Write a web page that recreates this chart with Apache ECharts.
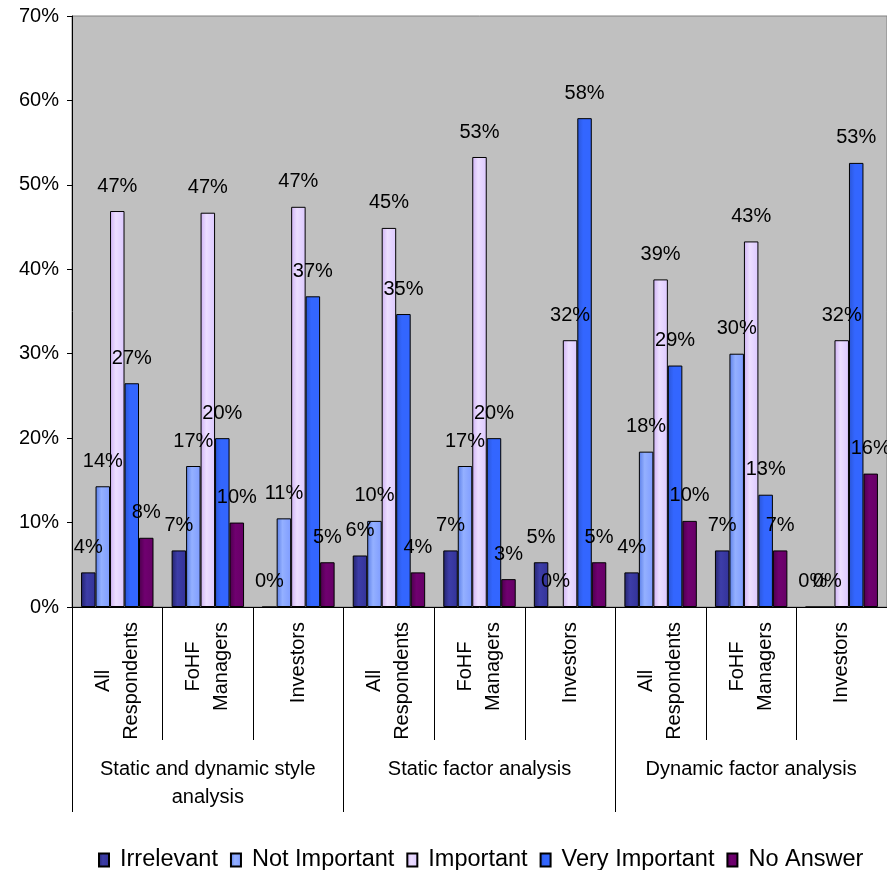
<!DOCTYPE html>
<html>
<head>
<meta charset="utf-8">
<script src="https://cdn.jsdelivr.net/npm/echarts@6/dist/echarts.min.js"></script>
<style>
html,body{margin:0;padding:0;background:#fff;}
#chart{width:887px;height:870px;}
</style>
</head>
<body>
<div id="chart"></div>
<script>
// ---- data (percent) ----
const categories = ['All\nRespondents', 'FoHF\nManagers', 'Investors',
                    'All\nRespondents', 'FoHF\nManagers', 'Investors',
                    'All\nRespondents', 'FoHF\nManagers', 'Investors'];
const groups = ['Static and dynamic style\nanalysis', 'Static factor analysis', 'Dynamic factor analysis'];
const seriesNames = ['Irrelevant', 'Not Important', 'Important', 'Very Important', 'No Answer'];
const irrelevant    = [4.1, 6.7, 0,    6.1, 6.7, 5.3,  4.1, 6.7, 0];
const notImportant  = [14.3, 16.7, 10.5, 10.2, 16.7, 0, 18.4, 30.0, 0];
const important     = [46.9, 46.7, 47.4, 44.9, 53.3, 31.6, 38.8, 43.3, 31.6];
const veryImportant = [26.5, 20.0, 36.8, 34.7, 20.0, 57.9, 28.6, 13.3, 52.6];
const noAnswer      = [8.2, 10.0, 5.3, 4.1, 3.3, 5.3, 10.2, 6.7, 15.8];
const yTicks = [0, 10, 20, 30, 40, 50, 60, 70];

const FONT = 'Liberation Sans, Arial, sans-serif';
function grad(dark, light, base) {
  return new echarts.graphic.LinearGradient(0, 0, 1, 0, [
    { offset: 0, color: dark }, { offset: 0.4, color: light }, { offset: 1, color: base }
  ]);
}
const colors = [
  grad('#24246e', '#3d3da8', '#333399'),
  grad('#5a7ee8', '#94b0ff', '#7f9cff'),
  grad('#cfb2f5', '#ecdeff', '#dcc8ff'),
  grad('#2a55d6', '#3366ff', '#3366ff'),
  grad('#4d004d', '#700070', '#660066')
];
const values = [irrelevant, notImportant, important, veryImportant, noAnswer];

const chart = echarts.init(document.getElementById('chart'), null, { renderer: 'canvas' });
chart.setOption({
  animation: false,
  textStyle: { fontFamily: FONT, color: '#000' },
  grid: {
    left: 72, right: 0, top: 16, bottom: 263,
    show: true, backgroundColor: '#C0C0C0', borderColor: '#808080', borderWidth: 1
  },
  legend: {
    left: 93, top: 843,
    icon: 'rect', itemWidth: 10, itemHeight: 13, itemGap: 12,
    textStyle: { fontFamily: FONT, fontSize: 23.5, color: '#000', padding: [0, 0, 0, 6] },
    data: seriesNames
  },
  xAxis: [
    {
      type: 'category', data: categories, position: 'bottom',
      axisLine: { show: true, lineStyle: { color: '#000', width: 1 } },
      axisTick: { show: true, interval: 0, length: 133, lineStyle: { color: '#000', width: 1 } },
      axisLabel: {
        interval: 0, rotate: 90, margin: 15, color: '#000', fontFamily: FONT, fontSize: 20,
        formatter: function (v) { return v.split('\n').map(s => '{c|' + s + '}').join('\n'); },
        rich: { c: { align: 'center', fontFamily: FONT, fontSize: 20, lineHeight: 28, color: '#000' } }
      }
    },
    {
      type: 'category', data: groups, position: 'bottom',
      axisLine: { show: false },
      axisTick: { show: true, interval: 0, length: 205, lineStyle: { color: '#000', width: 1 } },
      axisLabel: { interval: 0, margin: 148, color: '#000', fontFamily: FONT, fontSize: 20, lineHeight: 28 }
    }
  ],
  yAxis: {
    type: 'value', min: 0, max: 70, interval: 10,
    axisLine: { show: true, lineStyle: { color: '#000', width: 1 } },
    axisTick: { show: true, length: 5, lineStyle: { color: '#000' } },
    splitLine: { show: false },
    axisLabel: {
      margin: 13, color: '#000', fontFamily: FONT, fontSize: 20,
      formatter: function (v) { return yTicks.includes(v) ? v + '%' : ''; }
    }
  },
  series: seriesNames.map((name, i) => ({
    name: name, type: 'bar', xAxisIndex: 0,
    data: values[i],
    barGap: '0%', barCategoryGap: '20%',
    itemStyle: { color: colors[i], borderColor: '#000', borderWidth: 1 },
    label: {
      show: true, position: 'top', distance: 15,
      color: '#000', fontFamily: FONT, fontSize: 20,
      formatter: p => Math.round(p.value) + '%'
    }
  }))
});
</script>
</body>
</html>
